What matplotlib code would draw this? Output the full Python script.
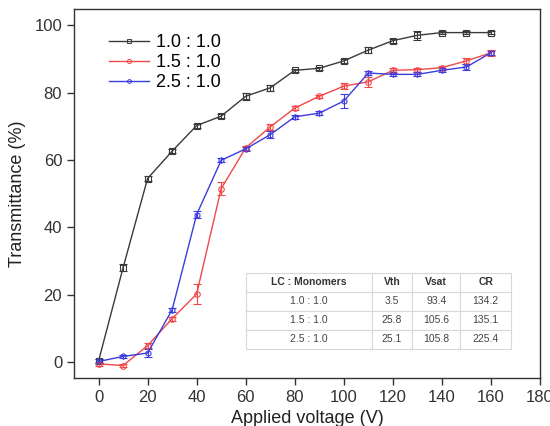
import matplotlib
matplotlib.use("Agg")
import matplotlib.pyplot as plt
from matplotlib.lines import Line2D

plt.rcParams['font.family'] = ['Liberation Sans', 'DejaVu Sans']

voltage = [0, 10, 20, 30, 40, 50, 60, 70, 80, 90, 100, 110, 120, 130, 140, 150, 160]

t_10 = [0.3, 28.0, 54.5, 62.6, 70.2, 73.0, 78.9, 81.4, 86.6, 87.2, 89.4, 92.6, 95.4, 97.0, 97.8, 97.8, 97.8]
e_10 = [0.5, 1.0, 0.8, 0.6, 0.6, 0.5, 1.0, 0.8, 0.5, 0.5, 0.6, 1.0, 0.6, 1.3, 0.5, 0.5, 0.5]

t_15 = [-0.5, -1.0, 4.9, 12.9, 20.2, 51.5, 63.6, 69.8, 75.4, 78.9, 81.9, 83.2, 86.6, 86.8, 87.4, 89.4, 91.8]
e_15 = [0.6, 0.5, 0.8, 0.6, 3.0, 2.0, 0.6, 0.8, 0.6, 0.5, 0.8, 1.5, 0.6, 0.6, 0.6, 0.8, 0.8]

t_25 = [0.2, 1.7, 2.7, 15.5, 43.8, 59.9, 63.3, 67.5, 72.8, 73.9, 77.5, 85.8, 85.4, 85.4, 86.6, 87.6, 91.8]
e_25 = [0.6, 0.5, 1.2, 0.6, 1.0, 0.6, 0.5, 1.0, 0.6, 0.5, 2.0, 0.6, 0.5, 0.6, 0.6, 0.8, 0.6]

labels = ['1.0 : 1.0', '1.5 : 1.0', '2.5 : 1.0']
colors = ['#3a3a3a', '#f04848', '#3c3cdc']
markers = ['s', 'o', 'h']

table_cols = ['LC : Monomers', 'Vth', 'Vsat', 'CR']
table_rows = [['1.0 : 1.0', '3.5', '93.4', '134.2'],
              ['1.5 : 1.0', '25.8', '105.6', '135.1'],
              ['2.5 : 1.0', '25.1', '105.8', '225.4']]

fig = plt.figure(figsize=(5.5, 4.26), dpi=100)
ax = fig.add_axes([74 / 550, 48 / 426, 466 / 550, 369 / 426])

handles = []
for y, err, lab, c, m in zip([t_10, t_15, t_25], [e_10, e_15, e_25], labels, colors, markers):
    ax.errorbar(voltage, y, yerr=err, color=c, lw=1.0, marker=m, ms=4,
                mfc='none', mec=c, mew=0.8, capsize=3, elinewidth=0.8,
                capthick=0.8)
    handles.append(Line2D([], [], color=c, lw=1.0, marker=m, ms=3,
                          mfc='none', mec=c, mew=0.7, label=lab))

ax.set_xlim(-10, 180)
ax.set_ylim(-4.7, 104.8)
ax.set_xticks(range(0, 181, 20))
ax.set_yticks(range(0, 101, 20))
ax.tick_params(direction='out', length=5, width=1, labelsize=12, colors='#333333',
               top=False, right=False)
for s in ax.spines.values():
    s.set_linewidth(1.0)
    s.set_color('#333333')

ax.set_xlabel('Applied voltage (V)', fontsize=13, labelpad=4, color='#222222')
ax.set_ylabel('Transmittance (%)', fontsize=13, labelpad=6, color='#222222')

ax.legend(handles=handles, loc='upper left', bbox_to_anchor=(0.04, 0.975),
          frameon=False, fontsize=13, handlelength=2.2, handletextpad=0.4,
          labelspacing=0.15)

tb = ax.table(cellText=table_rows, colLabels=table_cols, cellLoc='center',
              colWidths=[0.475, 0.151, 0.181, 0.192],
              bbox=[0.369, 0.079, 0.569, 0.206])
tb.auto_set_font_size(False)
for (r, c), cell in tb.get_celld().items():
    cell.set_edgecolor('#d8d8d8')
    cell.set_linewidth(0.8)
    cell.set_text_props(fontsize=7.5, color='#444444')
    if r == 0:
        cell.set_text_props(fontsize=7.5, fontweight='bold', color='#333333')

fig.savefig('out.png', dpi=100)
